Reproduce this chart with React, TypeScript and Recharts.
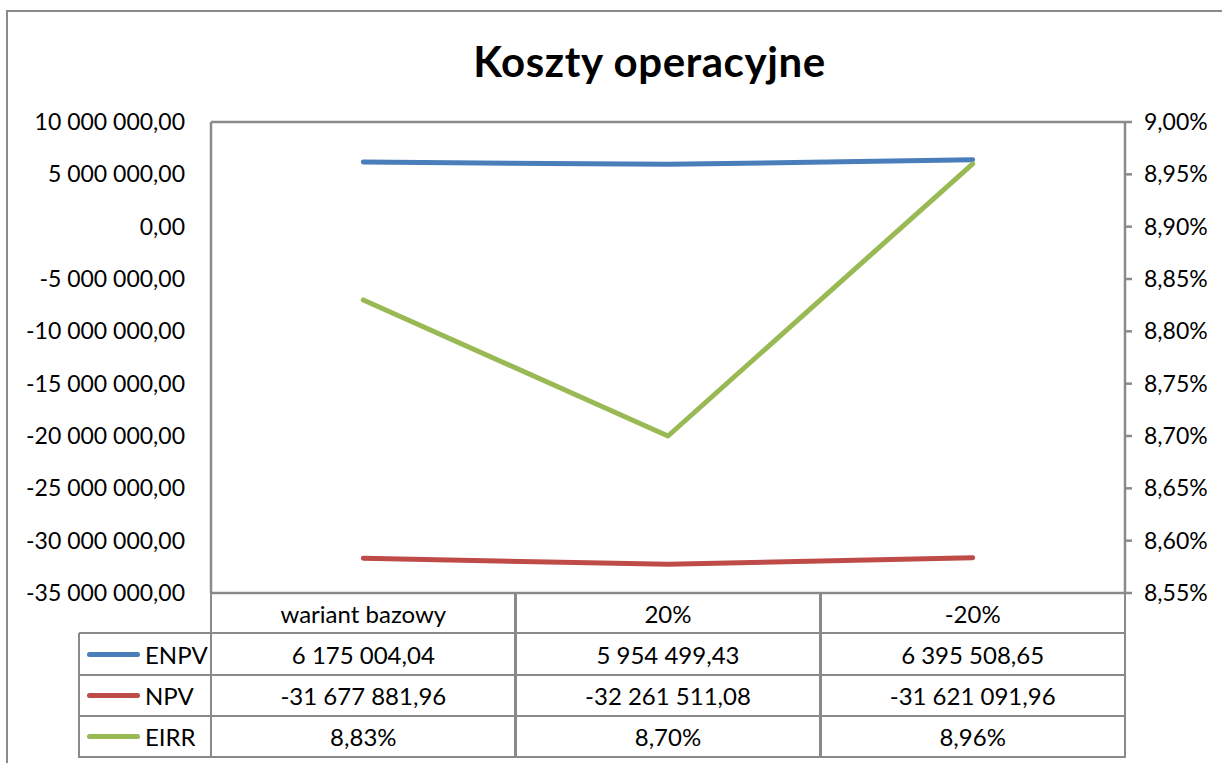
import React from 'react'
import { LineChart, Line, XAxis, YAxis, CartesianGrid } from 'recharts'

const categories = ['wariant bazowy', '20%', '-20%']
const enpv = [6175004.04, 5954499.43, 6395508.65]
const npv = [-31677881.96, -32261511.08, -31621091.96]
const eirr = [8.83, 8.7, 8.96]

const leftTicks = [10000000, 5000000, 0, -5000000, -10000000, -15000000, -20000000, -25000000, -30000000, -35000000]
const rightTicks = [9.0, 8.95, 8.9, 8.85, 8.8, 8.75, 8.7, 8.65, 8.6, 8.55]

const seriesNames = ['ENPV', 'NPV', 'EIRR']
const seriesColors = ['#4a7ebb', '#be4b48', '#98b954']

const data = categories.map((name, i) => ({ name, enpv: enpv[i], npv: npv[i], eirr: eirr[i] }))

const W = 1222
const H = 763
const plotLeft = 211
const plotRight = 1125
const plotTop = 122
const plotBottom = 593
const rowLines = [593, 633, 675, 716, 757]
const legendLeft = 79
const grey = '#8a8a8a'
const font = 'Lato, "Open Sans", sans-serif'
const colW = (plotRight - plotLeft) / categories.length

// polish style: 1 234 567,89
function fmtNum(v: number) {
    const neg = v < 0
    const [int, dec] = Math.abs(v).toFixed(2).split('.')
    const grouped = int.replace(/\B(?=(\d{3})+(?!\d))/g, ' ')
    return (neg ? '-' : '') + grouped + ',' + dec
}

function fmtPct(v: number) {
    return v.toFixed(2).replace('.', ',') + '%'
}

function DataTable() {
    const lines: React.ReactNode[] = []
    const cells: React.ReactNode[] = []

    // horizontal borders
    rowLines.forEach((y, i) => {
        const x0 = i === 0 ? plotLeft : legendLeft
        lines.push(
            <div key={'h' + i} style={{ position: 'absolute', left: x0, top: y - 1.25, width: plotRight - x0 + 1.25, height: 2.5, background: grey }} />
        )
    })
    // vertical borders
    for (let c = 0; c <= categories.length; c++) {
        const x = plotLeft + c * colW
        lines.push(
            <div key={'v' + c} style={{ position: 'absolute', left: x - 1.25, top: rowLines[0], width: 2.5, height: rowLines[4] - rowLines[0] + 1.25, background: grey }} />
        )
    }
    lines.push(
        <div key="vl" style={{ position: 'absolute', left: legendLeft - 1.25, top: rowLines[1], width: 2.5, height: rowLines[4] - rowLines[1] + 1.25, background: grey }} />
    )

    const cellStyle = (x: number, y0: number, y1: number, w: number): React.CSSProperties => ({
        position: 'absolute', left: x, top: y0, width: w, height: y1 - y0,
        display: 'flex', alignItems: 'center', justifyContent: 'center',
        fontFamily: font, fontSize: 24, color: '#000', whiteSpace: 'nowrap'
    })

    categories.forEach((cat, c) => {
        cells.push(<div key={'c' + c} style={cellStyle(plotLeft + c * colW, rowLines[0], rowLines[1], colW)}>{cat}</div>)
    })

    const rows = [enpv.map(fmtNum), npv.map(fmtNum), eirr.map(fmtPct)]
    rows.forEach((vals, r) => {
        const y0 = rowLines[r + 1]
        const y1 = rowLines[r + 2]
        cells.push(
            <div key={'l' + r} style={{ position: 'absolute', left: legendLeft, top: y0, width: plotLeft - legendLeft, height: y1 - y0, display: 'flex', alignItems: 'center', fontFamily: font, fontSize: 24 }}>
                <div style={{ marginLeft: 8, width: 53, height: 5, borderRadius: 3, background: seriesColors[r] }} />
                <span style={{ marginLeft: 5 }}>{seriesNames[r]}</span>
            </div>
        )
        vals.forEach((v, c) => {
            cells.push(<div key={'d' + r + c} style={cellStyle(plotLeft + c * colW, y0, y1, colW)}>{v}</div>)
        })
    })

    return <>{lines}{cells}</>
}

export default function App() {
    return (
        <div style={{ position: 'absolute', left: 0, top: 0, width: W, height: H, overflow: 'hidden', background: '#fff' }}>
            <div style={{ position: 'absolute', left: 6, top: 10, width: 1260, height: 800, border: `2.5px solid ${grey}` }} />
            <div style={{ position: 'absolute', left: 0, top: 36, width: 1299, textAlign: 'center', fontFamily: font, fontWeight: 700, fontSize: 42, letterSpacing: 0.6, color: '#000' }}>
                Koszty operacyjne
            </div>
            <div style={{ position: 'absolute', left: 0, top: 0 }}>
                <LineChart
                    width={W}
                    height={H}
                    data={data}
                    margin={{ top: plotTop, bottom: H - plotBottom, left: 11, right: 7 }}
                >
                    <CartesianGrid vertical={false} stroke={grey} strokeWidth={2.5} />
                    <XAxis dataKey="name" hide padding={{ left: colW / 2, right: colW / 2 }} />
                    <YAxis
                        yAxisId="left"
                        width={200}
                        domain={[-35000000, 10000000]}
                        ticks={leftTicks}
                        interval={0}
                        tickFormatter={fmtNum}
                        axisLine={{ stroke: grey, strokeWidth: 2.5 }}
                        tickLine={false}
                        tickSize={0}
                        tickMargin={26}
                        tick={{ fill: '#000', fontSize: 23, fontFamily: font }}
                    />
                    <YAxis
                        yAxisId="right"
                        orientation="right"
                        width={90}
                        domain={[8.55, 9.0]}
                        ticks={rightTicks}
                        interval={0}
                        tickFormatter={fmtPct}
                        axisLine={{ stroke: grey, strokeWidth: 2.5 }}
                        tickLine={{ stroke: grey, strokeWidth: 2.5 }}
                        tickSize={7}
                        tickMargin={12}
                        tick={{ fill: '#000', fontSize: 23, fontFamily: font, textAnchor: 'start' }}
                    />
                    <Line yAxisId="left" dataKey="enpv" stroke={seriesColors[0]} strokeWidth={5} dot={false} strokeLinecap="round" isAnimationActive={false} />
                    <Line yAxisId="left" dataKey="npv" stroke={seriesColors[1]} strokeWidth={5} dot={false} strokeLinecap="round" isAnimationActive={false} />
                    <Line yAxisId="right" dataKey="eirr" stroke={seriesColors[2]} strokeWidth={5} dot={false} strokeLinecap="round" strokeLinejoin="round" isAnimationActive={false} />
                </LineChart>
            </div>
            <DataTable />
        </div>
    )
}
